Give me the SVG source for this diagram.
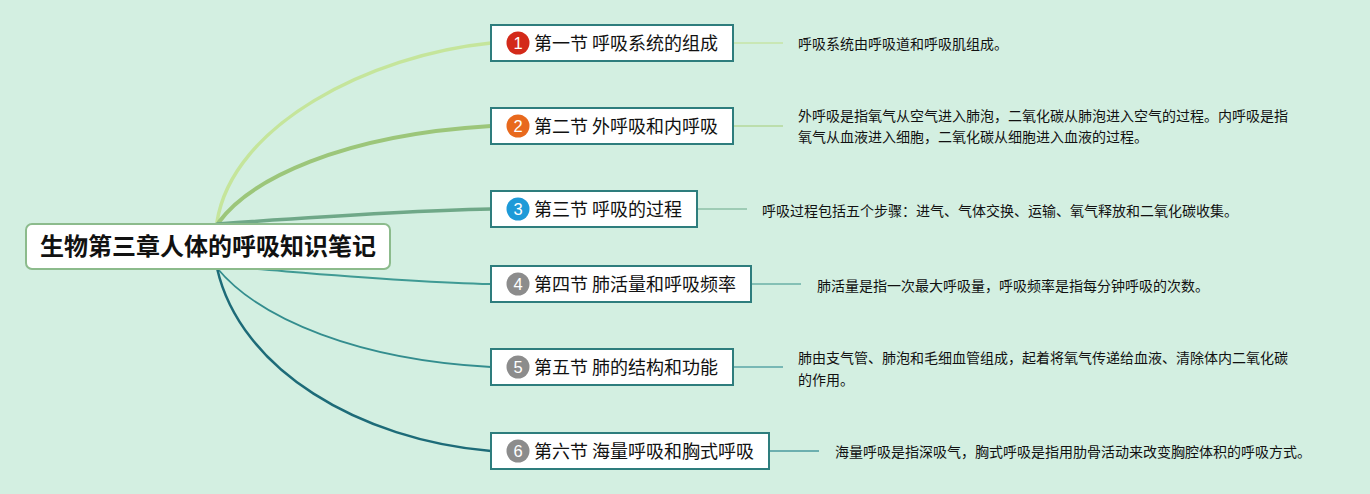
<svg xmlns="http://www.w3.org/2000/svg" width="1370" height="494" viewBox="0 0 1370 494">
<style>
.bg{fill:#d3efe1}
.node rect{fill:#fff;stroke:#2e7d7d;stroke-width:2}
.lbl{font-family:"Noto Sans CJK SC","Noto Sans",sans-serif;font-size:18px;fill:#111}
.num{font-family:"Liberation Sans","Noto Sans",sans-serif;font-size:16.5px;fill:#fff;text-anchor:middle}
.note{font-family:"Noto Sans CJK SC","Noto Sans",sans-serif;font-size:14px;fill:#111}
.root rect{fill:#fff;stroke:#8cbb8c;stroke-width:2}
.rootlbl{font-family:"Noto Sans CJK SC","Noto Sans",sans-serif;font-size:24px;font-weight:bold;fill:#111;text-anchor:middle}
#connectors path{fill:none;stroke-linecap:round}
#connectors line{stroke-width:1.5}
</style>
<rect class="bg" x="0" y="0" width="1370" height="494"/>
<g id="connectors">
<path d="M217,222 C232,125 370,55 491,43" stroke="#c5e59b" stroke-width="3.5"/>
<path d="M219,222 C250,180 340,135 491,126" stroke="#9cc67a" stroke-width="4"/>
<path d="M217,224 C300,218 400,211 491,209" stroke="#6fa888" stroke-width="3.5"/>
<path d="M217,266 C300,272 400,282 491,284" stroke="#3f9a94" stroke-width="2"/>
<path d="M217,268 C260,320 360,360 491,367" stroke="#338d8e" stroke-width="1.8"/>
<path d="M217,268 C240,370 360,440 491,451" stroke="#1d6b78" stroke-width="2.5"/>
<line x1="733" y1="43" x2="783" y2="43" stroke="#c6e4a6"/>
<line x1="733" y1="126" x2="783" y2="126" stroke="#b5d99a"/>
<line x1="697" y1="209" x2="747" y2="209" stroke="#8cc0a6"/>
<line x1="751" y1="284" x2="801" y2="284" stroke="#6ab0a6"/>
<line x1="733" y1="367" x2="783" y2="367" stroke="#5aa6a6"/>
<line x1="769" y1="451" x2="819" y2="451" stroke="#4a9a9e"/>
</g>
<g id="root" class="root">
<rect x="26" y="224" width="364" height="45" rx="6"/>
<text class="rootlbl" x="208" y="255">生物第三章人体的呼吸知识笔记</text>
</g>
<g id="n1" class="node">
<rect x="491" y="25" width="242" height="36"/>
<circle cx="518" cy="43" r="11.5" fill="#d32a1a"/>
<text class="num" x="518" y="49">1</text>
<text class="lbl" x="534" y="49.5">第一节 呼吸系统的组成</text>
</g>
<g id="n2" class="node">
<rect x="491" y="108" width="242" height="36"/>
<circle cx="518" cy="126" r="11.5" fill="#e8691d"/>
<text class="num" x="518" y="132">2</text>
<text class="lbl" x="534" y="132.5">第二节 外呼吸和内呼吸</text>
</g>
<g id="n3" class="node">
<rect x="491" y="191" width="206" height="36"/>
<circle cx="518" cy="209" r="11.5" fill="#1e9ad8"/>
<text class="num" x="518" y="215">3</text>
<text class="lbl" x="534" y="215.5">第三节 呼吸的过程</text>
</g>
<g id="n4" class="node">
<rect x="491" y="266" width="260" height="36"/>
<circle cx="518" cy="284" r="11.5" fill="#8c8c8c"/>
<text class="num" x="518" y="290">4</text>
<text class="lbl" x="534" y="290.5">第四节 肺活量和呼吸频率</text>
</g>
<g id="n5" class="node">
<rect x="491" y="349" width="242" height="36"/>
<circle cx="518" cy="367" r="11.5" fill="#8c8c8c"/>
<text class="num" x="518" y="373">5</text>
<text class="lbl" x="534" y="373.5">第五节 肺的结构和功能</text>
</g>
<g id="n6" class="node">
<rect x="491" y="433" width="278" height="36"/>
<circle cx="518" cy="451" r="11.5" fill="#8c8c8c"/>
<text class="num" x="518" y="457">6</text>
<text class="lbl" x="534" y="457.5">第六节 海量呼吸和胸式呼吸</text>
</g>
<g id="note1"><text class="note" x="798" y="49">呼吸系统由呼吸道和呼吸肌组成。</text></g>
<g id="note2"><text class="note" x="798" y="121">外呼吸是指氧气从空气进入肺泡，二氧化碳从肺泡进入空气的过程。内呼吸是指</text><text class="note" x="798" y="142">氧气从血液进入细胞，二氧化碳从细胞进入血液的过程。</text></g>
<g id="note3"><text class="note" x="762" y="216">呼吸过程包括五个步骤：进气、气体交换、运输、氧气释放和二氧化碳收集。</text></g>
<g id="note4"><text class="note" x="817" y="291">肺活量是指一次最大呼吸量，呼吸频率是指每分钟呼吸的次数。</text></g>
<g id="note5"><text class="note" x="798" y="363">肺由支气管、肺泡和毛细血管组成，起着将氧气传递给血液、清除体内二氧化碳</text><text class="note" x="798" y="385">的作用。</text></g>
<g id="note6"><text class="note" x="835" y="457">海量呼吸是指深吸气，胸式呼吸是指用肋骨活动来改变胸腔体积的呼吸方式。</text></g>
</svg>
